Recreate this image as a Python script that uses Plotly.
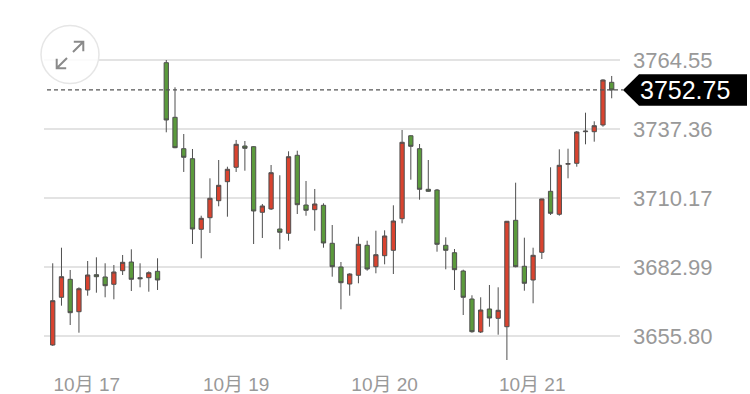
import plotly.graph_objects as go

# ---- data ----
opens = [3652.24, 3671.04, 3678.13, 3665.36, 3673.92, 3679.95, 3679.04, 3676.16, 3681.52, 3684.95,
         3678.76, 3678.76, 3681.28, 3763.49, 3741.97, 3729.60, 3725.66, 3697.84, 3702.41, 3709.11,
         3716.59, 3722.27, 3730.66, 3730.39, 3704.53, 3705.84, 3697.95, 3696.26, 3727.00, 3707.41,
         3705.56, 3707.29, 3692.32, 3682.98, 3676.28, 3679.71, 3691.53, 3683.10, 3687.43, 3689.56,
         3702.01, 3734.70, 3729.60, 3713.60, 3713.32, 3691.53, 3688.61, 3681.40, 3670.37, 3657.37,
         3666.43, 3662.76, 3659.45, 3701.38, 3683.26, 3677.86, 3688.77, 3712.81, 3703.75, 3723.50,
         3723.84, 3736.30, 3736.30, 3738.94, 3755.76]
highs = [3684.44, 3690.58, 3681.80, 3674.98, 3685.34, 3686.80, 3684.44, 3683.77, 3687.71, 3689.95,
         3684.44, 3681.28, 3686.41, 3764.55, 3753.79, 3735.39, 3729.48, 3703.19, 3717.93, 3725.14,
         3722.50, 3733.03, 3732.63, 3730.54, 3707.81, 3723.17, 3719.12, 3728.57, 3728.81, 3716.87,
         3713.72, 3708.08, 3699.53, 3684.95, 3680.50, 3694.92, 3693.34, 3697.28, 3697.44, 3707.29,
         3736.97, 3734.88, 3731.45, 3725.14, 3713.72, 3694.68, 3690.07, 3681.92, 3671.83, 3671.04,
         3675.89, 3674.98, 3701.11, 3716.20, 3694.53, 3690.58, 3709.89, 3722.27, 3729.36, 3729.60,
         3736.57, 3743.78, 3740.39, 3756.94, 3758.25]
lows = [3651.90, 3667.73, 3660.12, 3657.09, 3671.67, 3672.85, 3671.04, 3670.25, 3679.83, 3673.52,
        3674.98, 3673.25, 3673.92, 3736.06, 3729.80, 3720.42, 3692.04, 3686.41, 3696.38, 3706.90,
        3702.80, 3720.42, 3720.93, 3692.04, 3694.41, 3705.44, 3689.95, 3693.34, 3703.86, 3703.19,
        3697.28, 3690.58, 3679.16, 3666.31, 3671.67, 3676.56, 3681.52, 3680.50, 3684.04, 3680.22,
        3700.20, 3717.38, 3709.50, 3712.60, 3689.01, 3682.07, 3673.92, 3664.06, 3657.09, 3656.97,
        3659.45, 3656.30, 3646.33, 3682.86, 3673.64, 3668.68, 3686.13, 3703.47, 3703.19, 3717.93,
        3722.50, 3731.33, 3732.36, 3738.27, 3749.46]
closes = [3669.70, 3679.16, 3664.97, 3674.43, 3679.83, 3679.16, 3675.61, 3681.01, 3684.83, 3678.13,
          3678.37, 3680.73, 3677.86, 3740.91, 3729.99, 3726.21, 3697.95, 3702.17, 3710.05, 3715.17,
          3721.48, 3731.33, 3729.75, 3705.05, 3707.02, 3720.14, 3696.65, 3726.44, 3707.53, 3705.32,
          3707.81, 3692.44, 3683.10, 3676.79, 3680.22, 3691.92, 3682.19, 3687.83, 3695.20, 3701.11,
          3732.12, 3730.54, 3713.60, 3712.81, 3691.92, 3689.56, 3681.92, 3671.04, 3657.48, 3666.03,
          3662.88, 3665.92, 3701.00, 3683.10, 3676.56, 3687.59, 3709.80, 3704.14, 3723.05, 3723.70,
          3736.18, 3736.50, 3738.66, 3756.67, 3752.75]
x_idx = list(range(len(opens)))

x_tick_pos = [3.9, 21.0, 38.0, 54.9]
x_tick_text = ["10月 17", "10月 19", "10月 20", "10月 21"]
y_tick_vals = [3764.55, 3737.36, 3710.17, 3682.99, 3655.80]
y_tick_text = ["3764.55", "3737.36", "3710.17", "3682.99", "3655.80"]
last_price = closes[-1]
last_label = "3752.75"

# ---- layout geometry ----
W, H = 750, 394
ML, MR, MT, MB = 44, 130, 40, 29
PW, PH = W - ML - MR, H - MT - MB
Y_RANGE = [3644.36, 3772.43]

def px(x):
    return (x - ML) / PW

def py(y):
    return (H - MB - y) / PH

FONT = "Liberation Sans, Arial, Noto Sans CJK SC, sans-serif"

fig = go.Figure()
fig.add_trace(go.Candlestick(
    x=x_idx, open=opens, high=highs, low=lows, close=closes,
    increasing=dict(line=dict(color="#4f4f4f", width=1), fillcolor="#d9432f"),
    decreasing=dict(line=dict(color="#4f4f4f", width=1), fillcolor="#5b9a3c"),
    whiskerwidth=0, hoverinfo="skip", showlegend=False,
))

shapes = []
# dashed last-price line
shapes.append(dict(type="line", xref="paper", yref="y", x0=px(47), x1=px(623),
                   y0=last_price, y1=last_price,
                   line=dict(color="#555555", width=1.2, dash="4px,3px"), layer="above"))
# price tag (arrow-shaped black box)
hh = 15.75 * (Y_RANGE[1] - Y_RANGE[0]) / PH
tag = "M {a},{m} L {b},{t} L {c},{t} L {c},{bt} L {b},{bt} Z".format(
    a=px(623), b=px(639), c=px(747), m=last_price, t=last_price + hh, bt=last_price - hh)
shapes.append(dict(type="path", xref="paper", yref="y", path=tag,
                   fillcolor="#000000", line=dict(width=0), layer="above"))
# expand icon circle
cx, cy, r = 70, 54.5, 29
shapes.append(dict(type="circle", xref="paper", yref="paper",
                   x0=px(cx - r), x1=px(cx + r), y0=py(cy + r), y1=py(cy - r),
                   fillcolor="rgba(255,255,255,0.85)", line=dict(color="#e6e6e6", width=1.5),
                   layer="above"))
# expand icon arrows
arrow_ne = "M {x1},{y1} L {x2},{y2} M {x3},{y3} L {x2},{y2} L {x4},{y4}".format(
    x1=px(73), y1=py(52), x2=px(83.3), y2=py(41.7), x3=px(73.8), y3=py(41.7),
    x4=px(83.3), y4=py(51.2))
arrow_sw = "M {x1},{y1} L {x2},{y2} M {x3},{y3} L {x2},{y2} L {x4},{y4}".format(
    x1=px(67), y1=py(58), x2=px(56.7), y2=py(68.3), x3=px(66.2), y3=py(68.3),
    x4=px(56.7), y4=py(58.8))
for pth in (arrow_ne, arrow_sw):
    shapes.append(dict(type="path", xref="paper", yref="paper", path=pth,
                       line=dict(color="#8a8a8a", width=2), layer="above"))

fig.update_layout(
    template="none",
    width=W, height=H,
    margin=dict(l=ML, r=MR, t=MT, b=MB, autoexpand=False),
    paper_bgcolor="white", plot_bgcolor="white",
    showlegend=False,
    shapes=shapes,
    annotations=[dict(xref="paper", yref="y", x=px(638), y=last_price, text=last_label,
                      xanchor="left", yanchor="middle", showarrow=False,
                      font=dict(family=FONT, size=25, color="white"))],
    xaxis=dict(range=[-1, 64.95], rangeslider=dict(visible=False), showgrid=False,
               automargin=False,
               zeroline=False, showline=False, tickmode="array", tickvals=x_tick_pos,
               ticktext=x_tick_text, ticks="", ticklabelstandoff=6,
               tickfont=dict(family=FONT, size=19, color="#999999"), fixedrange=True),
    yaxis=dict(range=Y_RANGE, side="right", showgrid=True, gridcolor="#e3e3e3",
               automargin=False,
               gridwidth=1.2, zeroline=False, showline=False, tickmode="array",
               tickvals=y_tick_vals, ticktext=y_tick_text, ticks="", ticklabelstandoff=12,
               tickfont=dict(family=FONT, size=22, color="#999999"), fixedrange=True),
    hovermode=False,
)

fig.write_html("out.html", config={"displayModeBar": False, "staticPlot": True})
